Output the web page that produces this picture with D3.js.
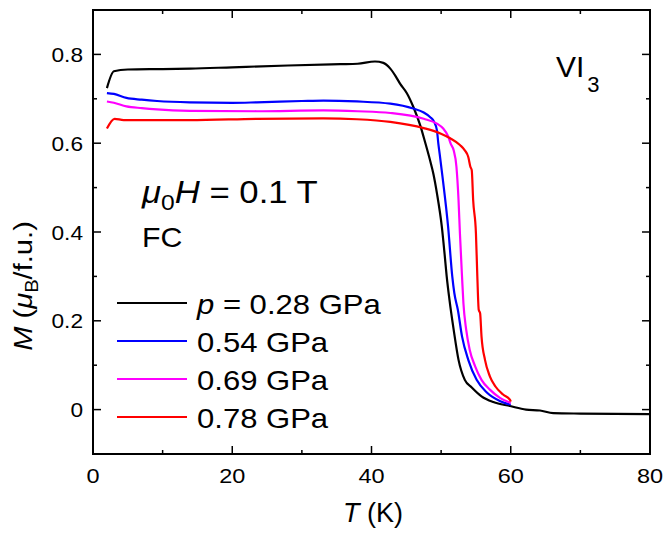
<!DOCTYPE html>
<html>
<head>
<meta charset="utf-8">
<script src="https://cdn.jsdelivr.net/npm/d3@7"></script>
<style>
  html, body { margin: 0; padding: 0; background: #fff; }
  svg { display: block; font-family: "Liberation Sans", Arial, sans-serif; }
</style>
</head>
<body>
<div id="chart"></div>
<script>
///// 1.  DATOS  (T en K, M en muB/f.u.)
const P028 = [
  [2.0,0.724],[3.0,0.762],[5,0.766],[10,0.767],[14,0.768],[20,0.771],[28,0.775],
  [35.5,0.778],[38,0.779],[40.5,0.784],[41.7,0.781],[42.7,0.768],[43.5,0.750],
  [44.1,0.734],[45.1,0.712],[46.0,0.682],[47.0,0.640],[47.7,0.602],[48.4,0.562],
  [48.9,0.530],[49.4,0.487],[50.1,0.412],[50.5,0.350],[50.8,0.300],[51.2,0.247],
  [51.8,0.180],[52.5,0.112],[53.4,0.067],[54.4,0.050],[55.8,0.030],[57.5,0.017],
  [59.9,0.008],[62.2,0.0],[64.2,-0.002],[66.1,-0.008],[70,-0.009],[80,-0.010]
];
const P054 = [
  [2,0.713],[3,0.711],[4.8,0.702],[7,0.698],[9.2,0.695],[13.9,0.692],[20,0.691],
  [23.5,0.692],[30,0.695],[33.1,0.696],[37.9,0.694],[42.7,0.689],[46.0,0.678],
  [47.5,0.669],[48.4,0.659],[49.0,0.648],[49.4,0.629],[49.6,0.599],[49.8,0.575],
  [50.2,0.524],[51.0,0.412],[51.6,0.300],[51.9,0.262],[52.4,0.225],[53.0,0.165],
  [53.9,0.112],[55.1,0.067],[56.6,0.038],[58.5,0.019],[60,0.011]
];
const P069 = [
  [2,0.694],[3,0.691],[4.8,0.683],[7,0.679],[9.2,0.676],[13.9,0.673],[23.5,0.672],
  [33.1,0.674],[38,0.672],[42.7,0.668],[47.5,0.655],[49.4,0.644],[50.3,0.633],
  [51.0,0.616],[51.4,0.598],[51.8,0.584],[52.2,0.547],[52.5,0.472],[52.7,0.397],
  [53.0,0.300],[53.2,0.240],[53.6,0.180],[54.1,0.135],[54.9,0.097],[55.8,0.067],
  [57.0,0.045],[58.5,0.026],[60,0.015]
];
const P078 = [
  [2,0.633],[3.1,0.655],[4.4,0.652],[13.9,0.652],[23.5,0.655],[33.1,0.656],
  [37.9,0.654],[42.7,0.648],[47.5,0.634],[49.9,0.622],[51.3,0.611],[52.7,0.596],
  [53.4,0.584],[53.9,0.569],[54.2,0.547],[54.4,0.539],[54.6,0.472],[55.0,0.397],
  [55.2,0.300],[55.4,0.225],[55.6,0.217],[55.8,0.165],[56.3,0.112],[57.0,0.075],
  [57.8,0.052],[58.9,0.034],[59.9,0.022],[60.0,0.018]
];

const SERIES_DATA   = [P028, P054, P069, P078];
const SERIES_COLORS = ['#000000', '#0000ff', '#ff00ff', '#ff0000'];
const SERIES_LABELS = ['0.28 GPa', '0.54 GPa', '0.69 GPa', '0.78 GPa'];

const X_TICKS = [0, 20, 40, 60, 80];
const X_MINOR = [10, 30, 50, 70];
const Y_TICKS = [0, 0.2, 0.4, 0.6, 0.8];
const Y_MINOR = [-0.1, 0.1, 0.3, 0.5, 0.7, 0.9];

///// 2.  LIENZO y ESCALAS
const W = 664, H = 533;
const svg = d3.select('#chart').append('svg')
              .attr('width', W).attr('height', H);

const x = d3.scaleLinear([0, 80], [93, 650]);
const y = d3.scaleLinear([-0.1, 0.9], [454, 10]);

const [x0, x1] = x.range();
const [y0, y1] = y.range();

// texto algo más ancho que Arial (como en la figura original)
function label (parent, px, py, size, sx = 1.12, rot = 0) {
  return parent.append('text')
               .attr('transform', `translate(${px},${py})${rot ? ` rotate(${rot})` : ''} scale(${sx},1)`)
               .attr('font-size', size);
}

///// 3.  CURVAS
const line = d3.line()
               .x(d => x(d[0]))
               .y(d => y(d[1]))
               .curve(d3.curveMonotoneX);

svg.append('g')
   .selectAll('path')
   .data(SERIES_DATA)
   .join('path')
     .attr('d', line)
     .attr('fill', 'none')
     .attr('stroke', (d, i) => SERIES_COLORS[i])
     .attr('stroke-width', 2.2)
     .attr('stroke-linejoin', 'round');

///// 4.  EJES (ticks hacia dentro en los cuatro lados)
const MAJ = 8, MIN = 4;
const ticks = svg.append('g').attr('stroke', '#000').attr('stroke-width', 1.5);

[[X_TICKS, MAJ], [X_MINOR, MIN]].forEach(([vals, len]) => {
  ticks.selectAll(null).data(vals).join('line')
       .attr('x1', d => x(d)).attr('x2', d => x(d))
       .attr('y1', y0).attr('y2', y0 - len);
  ticks.selectAll(null).data(vals).join('line')
       .attr('x1', d => x(d)).attr('x2', d => x(d))
       .attr('y1', y1).attr('y2', y1 + len);
});
[[Y_TICKS, MAJ], [Y_MINOR, MIN]].forEach(([vals, len]) => {
  ticks.selectAll(null).data(vals).join('line')
       .attr('y1', d => y(d)).attr('y2', d => y(d))
       .attr('x1', x0).attr('x2', x0 + len);
  ticks.selectAll(null).data(vals).join('line')
       .attr('y1', d => y(d)).attr('y2', d => y(d))
       .attr('x1', x1).attr('x2', x1 - len);
});

svg.append('rect')
   .attr('x', x0).attr('y', y1)
   .attr('width', x1 - x0).attr('height', y0 - y1)
   .attr('fill', 'none')
   .attr('stroke', '#000')
   .attr('stroke-width', 2);

// etiquetas
const xl = svg.append('g').attr('text-anchor', 'middle');
X_TICKS.forEach(v => label(xl, x(v), 483, 21, 1.12).text(v));

const yl = svg.append('g').attr('text-anchor', 'end');
Y_TICKS.forEach(v => label(yl, 83, y(v), 21, 1.08)
  .attr('dy', '0.36em')
  .text(v === 0 ? '0' : d3.format('.1f')(v)));

// títulos de eje
const xt = label(svg, 373, 522, 27, 1.0).attr('text-anchor', 'middle');
xt.append('tspan').attr('font-style', 'italic').text('T');
xt.append('tspan').text(' (K)');

const yt = label(svg, 32, 286, 26, 1.12, -90).attr('text-anchor', 'middle');
yt.append('tspan').attr('font-style', 'italic').text('M');
yt.append('tspan').text(' (');
yt.append('tspan').attr('font-style', 'italic').text('\u03bc');
yt.append('tspan').attr('font-size', 18).attr('dy', 6).text('B');
yt.append('tspan').attr('dy', -6).text('/f.u.)');

///// 5.  ANOTACIONES
const vi = label(svg, 556, 77, 30, 1.0);
vi.append('tspan').text('VI');
vi.append('tspan').attr('font-size', 22).attr('dx', 3).attr('dy', 15).text('3');

const fld = label(svg, 142, 203, 31, 1.12);
fld.append('tspan').attr('font-style', 'italic').text('\u03bc');
fld.append('tspan').attr('font-size', 22).attr('dy', 7).text('0');
fld.append('tspan').attr('font-style', 'italic').attr('dy', -7).text('H');
fld.append('tspan').text(' = 0.1 T');

label(svg, 142, 247, 28, 1.08).text('FC');

///// 6.  LEYENDA
const LEG_Y = [303, 341, 379, 417];
const leg = svg.append('g');

leg.selectAll('line')
   .data(SERIES_COLORS)
   .join('line')
     .attr('x1', 117).attr('x2', 187)
     .attr('y1', (d, i) => LEG_Y[i]).attr('y2', (d, i) => LEG_Y[i])
     .attr('stroke', d => d)
     .attr('stroke-width', 2.2);

SERIES_LABELS.forEach((d, i) => {
  const t = label(leg, 197, LEG_Y[i] + 11, 27, 1.15);
  if (i === 0) {
    t.append('tspan').attr('font-style', 'italic').text('p');
    t.append('tspan').text(' = ' + d);
  } else {
    t.text(d);
  }
});
</script>
</body>
</html>
